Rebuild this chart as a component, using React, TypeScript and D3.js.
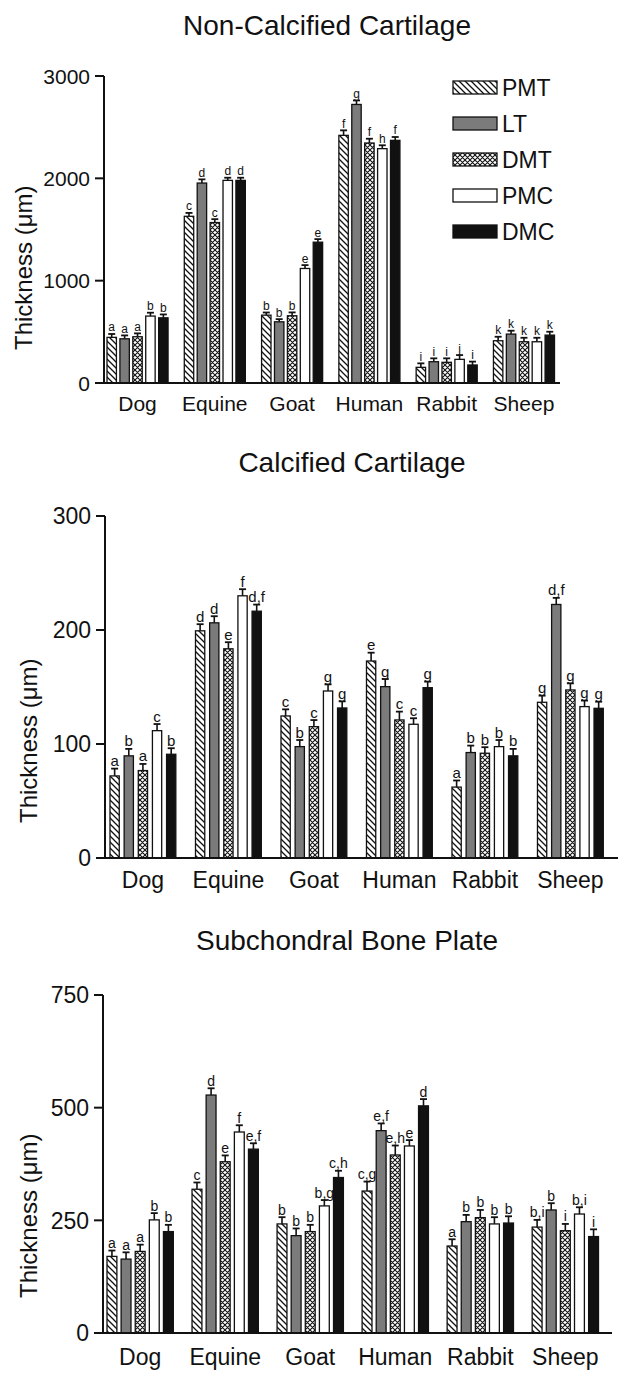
import React from "react";
import * as d3 from "d3";

const categories = ["Dog", "Equine", "Goat", "Human", "Rabbit", "Sheep"];
const series = ["PMT", "LT", "DMT", "PMC", "DMC"];

// Non-Calcified Cartilage
const ncTicks = [0, 1000, 2000, 3000];
const ncMeans = [
  [446, 432, 452, 654, 637],
  [1629, 1954, 1568, 1980, 1980],
  [663, 598, 657, 1119, 1376],
  [2420, 2722, 2345, 2290, 2371],
  [153, 208, 202, 231, 176],
  [413, 478, 403, 403, 468],
];
const ncErr = [
  [33, 33, 33, 33, 33],
  [33, 36, 33, 26, 26],
  [26, 26, 33, 33, 30],
  [49, 39, 42, 33, 33],
  [39, 33, 39, 42, 33],
  [39, 33, 39, 39, 33],
];
const ncLetters = [
  ["a", "a", "a", "b", "b"],
  ["c", "d", "c", "d", "d"],
  ["b", "b", "b", "e", "e"],
  ["f", "g", "f", "h", "f"],
  ["i", "i", "i", "j", "i"],
  ["k", "k", "k", "k", "k"],
];

// Calcified Cartilage
const ccTicks = [0, 100, 200, 300];
const ccMeans = [
  [72, 89.6, 76.7, 111.7, 91],
  [199.3, 206.3, 183.5, 230, 216.5],
  [124.6, 97.7, 115.2, 146.5, 131.6],
  [172.8, 150.3, 121.1, 117.3, 149.4],
  [62.2, 92.5, 91.9, 97.7, 89.6],
  [136.6, 222.4, 147.4, 132.8, 131.3],
];
const ccErr = [
  [6.4, 6.1, 5.8, 5.8, 5.3],
  [5.8, 5.8, 5.8, 5.8, 5.8],
  [5.8, 5.8, 5.8, 5.8, 5.8],
  [7.3, 6.7, 7.3, 5.3, 5.3],
  [5.8, 6.1, 5.3, 5.8, 6.1],
  [5.8, 5.8, 5.8, 5.3, 5.8],
];
const ccLetters = [
  ["a", "b", "a", "c", "b"],
  ["d", "d", "e", "f", "d,f"],
  ["c", "b", "c", "g", "g"],
  ["e", "g", "c", "c", "g"],
  ["a", "b", "b", "b", "b"],
  ["g", "d,f", "g", "g", "g"],
];

// Subchondral Bone Plate
const sbTicks = [0, 250, 500, 750];
const sbMeans = [
  [170, 164, 181, 251, 225],
  [319, 528, 380, 446, 408],
  [242, 216, 225, 282, 345],
  [315, 449, 395, 415, 504],
  [193, 247, 256, 242, 244],
  [235, 273, 227, 264, 214],
];
const sbErr = [
  [13, 15, 15, 15, 15],
  [15, 15, 14, 15, 13],
  [15, 16, 15, 13, 15],
  [21, 16, 21, 13, 15],
  [15, 15, 17, 15, 15],
  [16, 15, 15, 15, 16],
];
const sbLetters = [
  ["a", "a", "a", "b", "b"],
  ["c", "d", "e", "f", "e,f"],
  ["b", "b", "b", "b,g", "c,h"],
  ["c,g", "e,f", "e,h", "e", "d"],
  ["a", "b", "b", "b", "b"],
  ["b,i", "b", "i", "b,i", "i"],
];

const FONT = "'Liberation Sans', Arial, Helvetica, sans-serif";
const fills: Record<string, string> = {
  PMT: "url(#hatch)",
  LT: "#7b7b7b",
  DMT: "url(#cross)",
  PMC: "#ffffff",
  DMC: "#111111",
};

type PanelProps = {
  title: string;
  titleX: number;
  titleY: number;
  means: number[][];
  errs: number[][];
  letters: string[][];
  ticks: number[];
  axisX: number;
  y0: number;
  yTop: number;
  xEnd: number;
  bandStart: number;
  bandEnd: number;
  pad: number;
  innerPad: number;
  tickFont: number;
  catFont: number;
  catY: number;
  labelX: number;
  labelY: number;
  letterFont: number;
};

function Panel(p: PanelProps) {
  const yMax = p.ticks[p.ticks.length - 1];
  const y = d3.scaleLinear().domain([0, yMax]).range([p.y0, p.yTop]);
  const xo = d3
    .scaleBand<string>()
    .domain(categories)
    .range([p.bandStart, p.bandEnd])
    .paddingInner(p.pad)
    .paddingOuter(0);
  const xi = d3
    .scaleBand<string>()
    .domain(series)
    .range([0, xo.bandwidth()])
    .paddingInner(p.innerPad)
    .paddingOuter(0);
  const bw = xi.bandwidth();
  return (
    <g fontFamily={FONT}>
      <text x={p.titleX} y={p.titleY} fontSize={28} textAnchor="middle" fill="#111">
        {p.title}
      </text>
      {categories.map((c, ci) =>
        series.map((s, si) => {
          const v = p.means[ci][si];
          const e = p.errs[ci][si];
          const x = (xo(c) as number) + (xi(s) as number);
          const cx = x + bw / 2;
          const top = y(v);
          const et = y(v + e);
          return (
            <g key={c + s}>
              <line x1={cx} x2={cx} y1={top} y2={et} stroke="#111" strokeWidth={1.6} />
              <line x1={cx - 3.5} x2={cx + 3.5} y1={et} y2={et} stroke="#111" strokeWidth={1.8} />
              <rect
                x={x}
                y={top}
                width={bw}
                height={p.y0 - top}
                fill={fills[s]}
                stroke="#111"
                strokeWidth={1.3}
              />
              <text
                x={cx}
                y={et - 2.5}
                fontSize={p.letterFont}
                textAnchor="middle"
                fill="#111"
              >
                {p.letters[ci][si]}
              </text>
            </g>
          );
        })
      )}
      <line x1={p.axisX} x2={p.axisX} y1={p.yTop} y2={p.y0} stroke="#111" strokeWidth={2} />
      <line x1={p.axisX - 1} x2={p.xEnd} y1={p.y0} y2={p.y0} stroke="#111" strokeWidth={2} />
      {p.ticks.map((t) => (
        <g key={t}>
          <line x1={p.axisX - 9} x2={p.axisX} y1={y(t)} y2={y(t)} stroke="#111" strokeWidth={2} />
          <text
            x={p.axisX - 14}
            y={y(t)}
            dy="0.36em"
            fontSize={p.tickFont}
            textAnchor="end"
            fill="#111"
          >
            {t}
          </text>
        </g>
      ))}
      {categories.map((c) => (
        <text
          key={c}
          x={(xo(c) as number) + xo.bandwidth() / 2}
          y={p.catY}
          fontSize={p.catFont}
          textAnchor="middle"
          fill="#111"
        >
          {c}
        </text>
      ))}
      <text
        transform={`translate(${p.labelX},${p.labelY}) rotate(-90)`}
        fontSize={24}
        textAnchor="start"
        fill="#111"
      >
        Thickness (μm)
      </text>
    </g>
  );
}

export default function App() {
  return (
    <svg
      width={633}
      height={1393}
      style={{ position: "absolute", left: 0, top: 0, display: "block", background: "#fff" }}
    >
      <defs>
        <pattern id="hatch" patternUnits="userSpaceOnUse" width={6} height={6}>
          <rect width={6} height={6} fill="#fff" />
          <path d="M0,0 L6,6 M-1,5 L1,7 M5,-1 L7,1" stroke="#111" strokeWidth={1.3} />
        </pattern>
        <pattern id="cross" patternUnits="userSpaceOnUse" width={5} height={5}>
          <rect width={5} height={5} fill="#fff" />
          <path
            d="M0,0 L5,5 M-1,4 L1,6 M4,-1 L6,1 M0,5 L5,0 M-1,1 L1,-1 M4,6 L6,4"
            stroke="#111"
            strokeWidth={1.1}
          />
        </pattern>
      </defs>
      <rect width={633} height={1393} fill="#fff" />
      <Panel
        title="Non-Calcified Cartilage"
        titleX={327}
        titleY={35}
        means={ncMeans}
        errs={ncErr}
        letters={ncLetters}
        ticks={ncTicks}
        axisX={104}
        y0={383}
        yTop={76}
        xEnd={560}
        bandStart={107}
        bandEnd={554.5}
        pad={0.21}
        innerPad={0.27}
        tickFont={21}
        catFont={21}
        catY={411}
        labelX={32}
        labelY={350}
        letterFont={12}
      />
      <Panel
        title="Calcified Cartilage"
        titleX={352}
        titleY={472}
        means={ccMeans}
        errs={ccErr}
        letters={ccLetters}
        ticks={ccTicks}
        axisX={105}
        y0={858}
        yTop={516}
        xEnd={618}
        bandStart={110}
        bandEnd={603.3}
        pad={0.23}
        innerPad={0.345}
        tickFont={23}
        catFont={23}
        catY={888}
        labelX={37}
        labelY={823}
        letterFont={15}
      />
      <Panel
        title="Subchondral Bone Plate"
        titleX={347}
        titleY={950}
        means={sbMeans}
        errs={sbErr}
        letters={sbLetters}
        ticks={sbTicks}
        axisX={103}
        y0={1333}
        yTop={995}
        xEnd={612}
        bandStart={107}
        bandEnd={598.5}
        pad={0.22}
        innerPad={0.3}
        tickFont={23}
        catFont={23}
        catY={1365}
        labelX={37}
        labelY={1298}
        letterFont={14}
      />
      <g fontFamily={FONT}>
        {series.map((s, i) => (
          <g key={s}>
            <rect
              x={453}
              y={81 + i * 36}
              width={44}
              height={13}
              fill={fills[s]}
              stroke="#111"
              strokeWidth={1.3}
            />
            <text x={502} y={95.5 + i * 36} fontSize={23} fill="#111">
              {s}
            </text>
          </g>
        ))}
      </g>
    </svg>
  );
}
